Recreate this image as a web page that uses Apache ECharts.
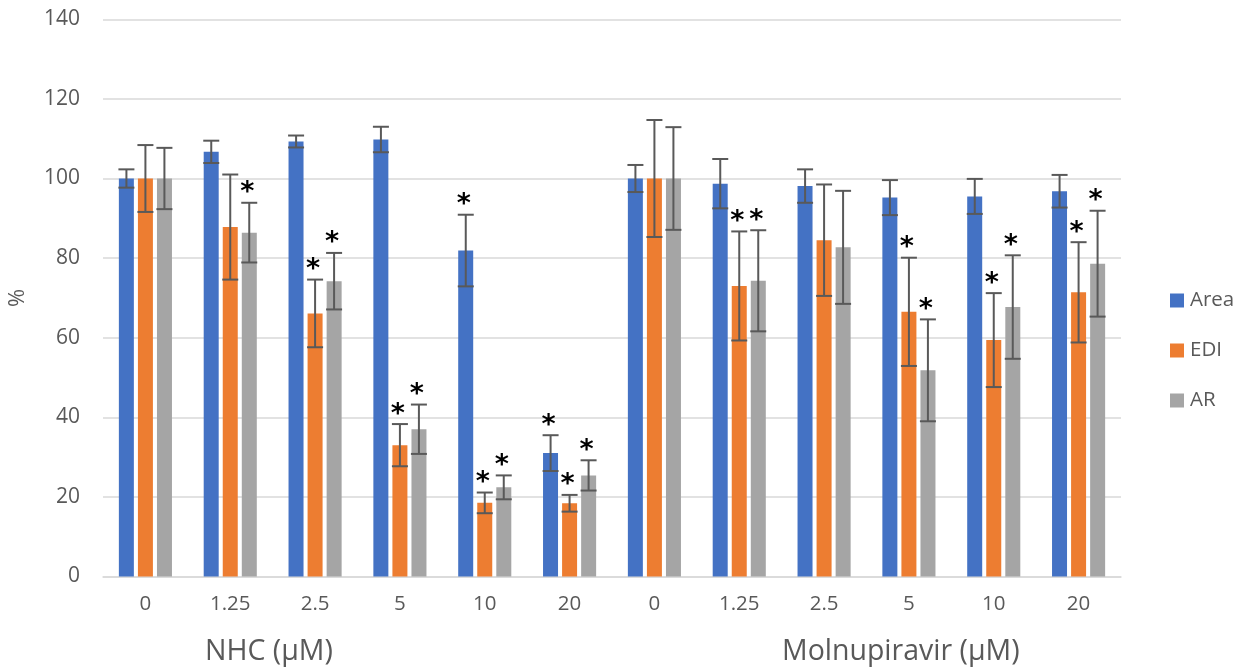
<!DOCTYPE html>
<html>
<head>
<meta charset="utf-8">
<script src="https://cdn.jsdelivr.net/npm/echarts@6/dist/echarts.min.js"></script>
<style>html,body{margin:0;padding:0;background:#fff}#c{width:1246px;height:671px}</style>
</head>
<body>
<div id="c"></div>
<script>
const categories = ['0','1.25','2.5','5','10','20','0','1.25','2.5','5','10','20'];
const yTicks = [0,20,40,60,80,100,120,140];
const seriesNames = ['Area','EDI','AR'];
const area    = [100, 106.7, 109.3, 109.8, 81.9, 31.0, 100, 98.7, 98.1, 95.2, 95.5, 96.8];
const areaErr = [2.3, 2.8, 1.5, 3.2, 9.0, 4.5, 3.4, 6.2, 4.2, 4.4, 4.4, 4.1];
const edi     = [100, 87.8, 66.1, 33.0, 18.5, 18.4, 100, 73.0, 84.5, 66.5, 59.4, 71.4];
const ediErr  = [8.4, 13.2, 8.5, 5.3, 2.6, 2.1, 14.7, 13.7, 14.0, 13.6, 11.8, 12.6];
const ar      = [100, 86.4, 74.2, 37.0, 22.4, 25.4, 100, 74.3, 82.7, 51.8, 67.7, 78.6];
const arErr   = [7.7, 7.5, 7.1, 6.2, 3.0, 3.8, 12.9, 12.7, 14.2, 12.8, 13.0, 13.3];
const areaSig = [0,0,0,0,1,1,0,0,0,0,0,0];
const ediSig  = [0,0,1,1,1,1,0,1,0,1,1,1];
const arSig   = [0,1,1,1,1,1,0,1,0,1,1,1];
const groupLabels = ['NHC (μM)', 'Molnupiravir (μM)'];

const colors = ['#4472C4','#ED7D31','#A5A5A5'];
const values = [area, edi, ar];
const errs = [areaErr, ediErr, arErr];
const sigs = [areaSig, ediSig, arSig];
const BAR_W = 15, STEP = 19;
const FONT = '"Open Sans", "DejaVu Sans", sans-serif';

const chart = echarts.init(document.getElementById('c'));

const barSeries = seriesNames.map((n, s) => ({
  name: n, type: 'bar', data: values[s], barWidth: BAR_W, barGap: '27%',
  itemStyle: { color: colors[s] }, z: 2
}));

const errData = [];
const sigData = [];
for (let s = 0; s < 3; s++) {
  for (let i = 0; i < categories.length; i++) {
    errData.push([i, values[s][i], errs[s][i], s]);
    if (sigs[s][i]) sigData.push([i, values[s][i] + errs[s][i], s]);
  }
}

const errSeries = {
  type: 'custom', name: 'err', data: errData, z: 5, silent: true,
  renderItem: function (params, api) {
    const i = api.value(0), v = api.value(1), e = api.value(2), s = api.value(3);
    const top = api.coord([i, v + e]);
    const bot = api.coord([i, v - e]);
    const x = top[0] + (s - 1) * STEP;
    const hw = 8;
    const st = { stroke: '#595959', lineWidth: 2 };
    return { type: 'group', children: [
      { type: 'line', shape: { x1: x, y1: top[1], x2: x, y2: bot[1] }, style: st },
      { type: 'line', shape: { x1: x - hw, y1: top[1], x2: x + hw, y2: top[1] }, style: st },
      { type: 'line', shape: { x1: x - hw, y1: bot[1], x2: x + hw, y2: bot[1] }, style: st }
    ]};
  }
};

const sigSeries = {
  type: 'custom', name: 'sig', data: sigData, z: 6, silent: true,
  renderItem: function (params, api) {
    const i = api.value(0), t = api.value(1), s = api.value(2);
    const p = api.coord([i, t]);
    return { type: 'text', style: {
      text: '*', x: p[0] + (s - 1) * STEP - 2, y: p[1] + 4,
      fill: '#000', font: 'bold 27px "DejaVu Sans", sans-serif',
      textAlign: 'center', textVerticalAlign: 'bottom'
    }};
  }
};

chart.setOption({
  animation: false,
  backgroundColor: '#fff',
  grid: { left: 103, right: 125, top: 19.3, bottom: 94.5, containLabel: false, outerBoundsMode: 'none' },
  legend: {
    orient: 'vertical', left: 1170, top: 290, padding: 0, itemWidth: 14, itemHeight: 14, itemGap: 29,
    icon: 'rect', data: seriesNames,
    textStyle: { color: '#595959', fontSize: 20.5, fontFamily: FONT, padding: [0,0,0,1] }
  },
  xAxis: {
    type: 'category', data: categories,
    axisLine: { lineStyle: { color: '#D9D9D9', width: 1.5 } },
    axisTick: { show: false },
    axisLabel: { color: '#595959', fontSize: 20.5, fontFamily: FONT, margin: 17, interval: 0 }
  },
  yAxis: {
    type: 'value', min: yTicks[0], max: yTicks[yTicks.length - 1], interval: 20,
    name: '%', nameLocation: 'middle', nameGap: 74, nameRotate: 90,
    nameTextStyle: { color: '#595959', fontSize: 22, fontFamily: FONT },
    axisLine: { show: false }, axisTick: { show: false },
    splitLine: { lineStyle: { color: '#D9D9D9', width: 1.5 } },
    axisLabel: { color: '#595959', fontSize: 21, fontFamily: FONT, margin: 23 }
  },
  graphic: [
    { type: 'text', left: 205, top: 637, style: { text: groupLabels[0], fill: '#595959', font: '28.5px ' + FONT } },
    { type: 'text', left: 782, top: 637, style: { text: groupLabels[1], fill: '#595959', font: '28.5px ' + FONT } }
  ],
  series: barSeries.concat([errSeries, sigSeries])
});
</script>
</body>
</html>
